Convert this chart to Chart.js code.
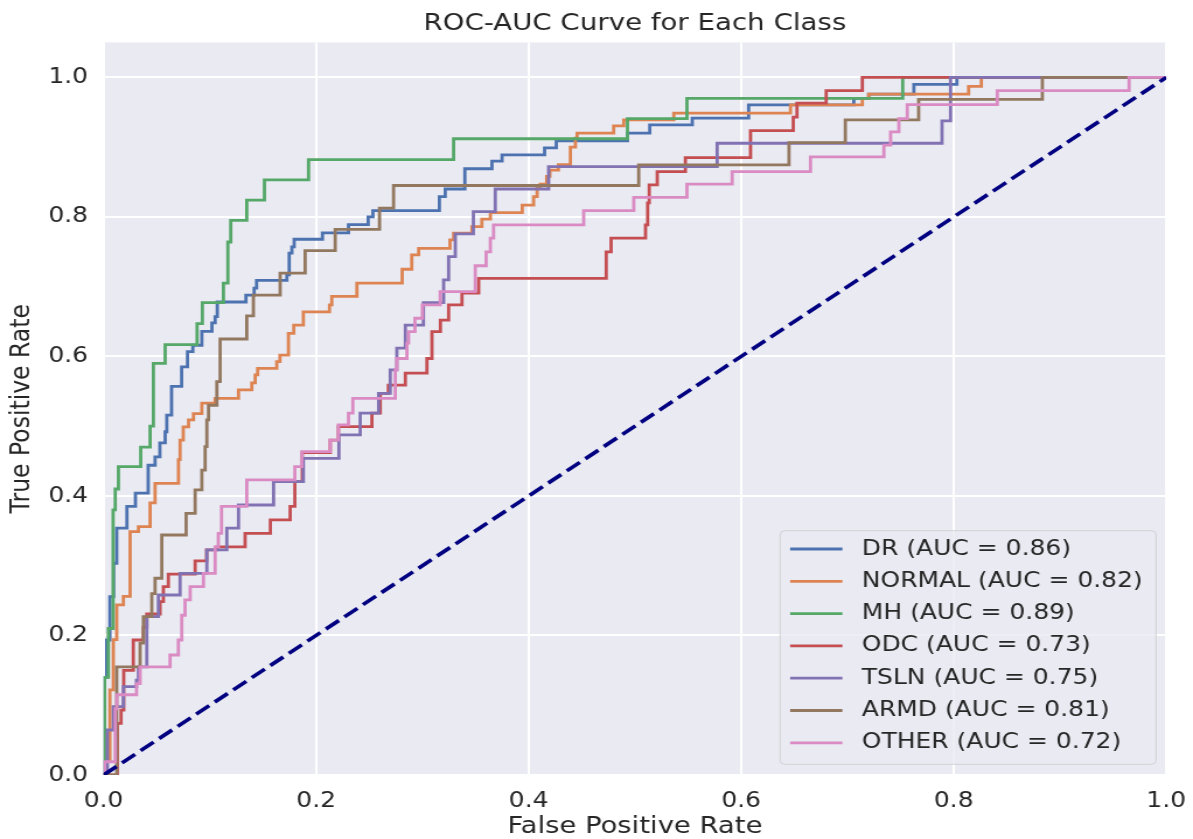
<!DOCTYPE html>
<html>
<head>
<meta charset="utf-8">
<title>ROC-AUC Curve for Each Class</title>
<script src="https://cdn.jsdelivr.net/npm/chart.js@4.4.1/dist/chart.umd.min.js"></script>
<style>
  html, body { margin: 0; padding: 0; background: #fff; overflow: hidden; }
  /* the source figure is a little wider than it is tall in its text, so stretch it */
  #wrap { width: 1022px; height: 839px; transform: scaleX(1.1673); transform-origin: 0 0; }
</style>
</head>
<body>
<div id="wrap"><canvas id="rocChart" width="1022" height="839"></canvas></div>
<script>
// ROC corner points per class, [fpr, tpr]
const rocDR = [[0,0],[0.001,0.14],[0.003,0.1935],[0.006,0.2556],[0.0095,0.3035],[0.0124,0.354],[0.022,0.385],[0.030,0.404],[0.042,0.444],[0.0485,0.456],[0.053,0.476],[0.058,0.492],[0.0595,0.516],[0.064,0.557],[0.0735,0.585],[0.079,0.607],[0.084,0.616],[0.0925,0.636],[0.102,0.648],[0.105,0.657],[0.107,0.678],[0.134,0.688],[0.1417,0.698],[0.144,0.709],[0.1725,0.717],[0.1747,0.748],[0.1772,0.757],[0.1794,0.768],[0.206,0.777],[0.2305,0.789],[0.249,0.800],[0.2535,0.809],[0.316,0.829],[0.3215,0.840],[0.340,0.869],[0.3655,0.880],[0.375,0.889],[0.415,0.899],[0.426,0.909],[0.493,0.920],[0.514,0.932],[0.554,0.9415],[0.607,0.9606],[0.706,0.970],[0.72,0.976],[0.7625,0.990],[0.803,1.0],[1,1]];
const rocNORMAL = [[0,0],[0.003,0.02],[0.006,0.122],[0.0092,0.194],[0.0124,0.244],[0.0187,0.256],[0.025,0.349],[0.0328,0.356],[0.0438,0.39],[0.0485,0.418],[0.0705,0.452],[0.072,0.48],[0.075,0.499],[0.080,0.509],[0.0846,0.518],[0.0925,0.533],[0.105,0.540],[0.127,0.552],[0.1395,0.562],[0.1427,0.5735],[0.145,0.583],[0.163,0.5925],[0.166,0.602],[0.174,0.633],[0.179,0.645],[0.188,0.664],[0.2126,0.674],[0.2148,0.686],[0.2384,0.705],[0.281,0.725],[0.290,0.7455],[0.2965,0.755],[0.326,0.767],[0.3294,0.7766],[0.3467,0.786],[0.356,0.7967],[0.364,0.806],[0.394,0.817],[0.4047,0.829],[0.408,0.841],[0.411,0.847],[0.417,0.858],[0.420,0.867],[0.428,0.875],[0.4393,0.90],[0.444,0.913],[0.4456,0.92],[0.48,0.9305],[0.4895,0.939],[0.5366,0.9487],[0.6464,0.9606],[0.714,0.97],[0.72,0.976],[0.814,0.987],[0.826,1.0],[1,1]];
const rocMH = [[0,0],[0.001,0.14],[0.0045,0.21],[0.009,0.38],[0.011,0.41],[0.014,0.442],[0.035,0.47],[0.0438,0.50],[0.0469,0.59],[0.058,0.617],[0.088,0.647],[0.093,0.677],[0.1128,0.705],[0.117,0.764],[0.1197,0.795],[0.1348,0.824],[0.1514,0.853],[0.1929,0.882],[0.3294,0.912],[0.493,0.941],[0.549,0.97],[0.752,1.0],[1,1]];
const rocODC = [[0,0],[0.013,0.074],[0.0165,0.093],[0.019,0.15],[0.028,0.1935],[0.0375,0.2115],[0.0407,0.2308],[0.0532,0.2485],[0.0563,0.27],[0.061,0.288],[0.0862,0.307],[0.097,0.3226],[0.1066,0.327],[0.1332,0.3465],[0.157,0.3656],[0.1756,0.385],[0.180,0.4205],[0.187,0.462],[0.2133,0.48],[0.221,0.4993],[0.2525,0.5186],[0.2604,0.547],[0.268,0.559],[0.284,0.576],[0.3043,0.597],[0.309,0.6355],[0.317,0.652],[0.3247,0.674],[0.3373,0.6906],[0.353,0.712],[0.473,0.750],[0.4776,0.7695],[0.51,0.7885],[0.512,0.82],[0.5135,0.846],[0.521,0.865],[0.5475,0.885],[0.6088,0.9237],[0.649,0.943],[0.6525,0.963],[0.680,0.981],[0.714,1.0],[1,1]];
const rocTSLN = [[0,0],[0.0036,0.0645],[0.0092,0.098],[0.0187,0.1266],[0.031,0.136],[0.0328,0.155],[0.0407,0.227],[0.0516,0.258],[0.072,0.289],[0.0972,0.3226],[0.116,0.354],[0.127,0.387],[0.16,0.4205],[0.188,0.454],[0.2215,0.4875],[0.2415,0.5186],[0.2588,0.547],[0.2698,0.5806],[0.276,0.612],[0.284,0.645],[0.301,0.677],[0.32,0.7097],[0.3247,0.743],[0.331,0.7756],[0.348,0.8076],[0.3686,0.840],[0.4188,0.872],[0.5774,0.9056],[0.789,0.9376],[0.797,1.0],[1,1]];
const rocARMD = [[0,0],[0.0124,0.155],[0.0344,0.189],[0.0375,0.227],[0.0454,0.26],[0.0485,0.282],[0.0548,0.344],[0.0777,0.375],[0.0862,0.4086],[0.0925,0.437],[0.0956,0.4707],[0.0972,0.509],[0.0988,0.53],[0.1066,0.564],[0.1097,0.625],[0.1348,0.658],[0.141,0.688],[0.1662,0.7193],[0.1897,0.7517],[0.218,0.782],[0.2597,0.8125],[0.2729,0.845],[0.5036,0.8746],[0.645,0.9065],[0.698,0.939],[0.767,0.9686],[0.8834,1.0],[1,1]];
const rocOTHER = [[0,0],[0.001,0.019],[0.011,0.095],[0.0125,0.115],[0.031,0.131],[0.0344,0.155],[0.0626,0.172],[0.0704,0.1935],[0.0736,0.229],[0.0767,0.251],[0.0815,0.27],[0.094,0.289],[0.105,0.327],[0.108,0.3465],[0.111,0.385],[0.1348,0.423],[0.180,0.442],[0.1866,0.4635],[0.2133,0.48],[0.221,0.5018],[0.2305,0.5186],[0.2346,0.54],[0.2745,0.5806],[0.276,0.597],[0.2855,0.619],[0.287,0.6355],[0.293,0.6547],[0.3,0.674],[0.3168,0.693],[0.3498,0.73],[0.36,0.75],[0.364,0.7695],[0.367,0.7885],[0.4518,0.809],[0.4989,0.828],[0.549,0.847],[0.5915,0.865],[0.6652,0.886],[0.7343,0.903],[0.7406,0.922],[0.7484,0.941],[0.7563,0.961],[0.841,0.981],[0.965,1.0],[1,1]];
const chanceLine = [[0,0],[1,1]];

const classNames = ['DR', 'NORMAL', 'MH', 'ODC', 'TSLN', 'ARMD', 'OTHER'];
const aucValues = [0.86, 0.82, 0.89, 0.73, 0.75, 0.81, 0.72];
const rocCurves = [rocDR, rocNORMAL, rocMH, rocODC, rocTSLN, rocARMD, rocOTHER];
const xTicks = [0, 0.2, 0.4, 0.6, 0.8, 1.0];
const yTicks = [0, 0.2, 0.4, 0.6, 0.8, 1.0];

// seaborn "deep" palette
const lineColors = ['#4c72b0', '#dd8452', '#55a868', '#c44e52', '#8172b3', '#937860', '#da8bc3'];
const textColor = '#262626';

Chart.defaults.font.family = '"DejaVu Sans", sans-serif';
Chart.defaults.color = textColor;

const toXY = pts => pts.map(p => ({ x: p[0], y: p[1] }));

const datasets = rocCurves.map((pts, i) => ({
  label: classNames[i] + ' (AUC = ' + aucValues[i].toFixed(2) + ')',
  data: toXY(pts),
  borderColor: lineColors[i],
  borderWidth: 2.8,
  stepped: 'before',   // chart.js 'before' = go up first, then across
  pointRadius: 0,
  fill: false,
  inLegend: true,
  order: rocCurves.length - i   // later classes drawn on top, like matplotlib
}));
datasets.push({
  label: 'chance',
  data: toXY(chanceLine),
  borderColor: '#000080',
  borderWidth: 3.6,
  borderDash: [14, 6],
  pointRadius: 0,
  fill: false,
  inLegend: false,
  order: 0
});

// grey-blue plot face
const plotFace = {
  id: 'plotFace',
  beforeDraw(chart) {
    const { ctx, chartArea: a } = chart;
    ctx.save();
    ctx.fillStyle = '#eaeaf2';
    ctx.fillRect(a.left, a.top, a.right - a.left, a.bottom - a.top);
    ctx.restore();
  }
};

// matplotlib style legend in the lower right corner
const insideLegend = {
  id: 'insideLegend',
  afterDatasetsDraw(chart) {
    const { ctx, chartArea: a } = chart;
    const items = chart.data.datasets.filter(d => d.inLegend);
    const w = 322, h = 233.6;
    const left = a.right - 8.8 - w, top = a.bottom - 10.7 - h;
    ctx.save();
    ctx.beginPath();
    ctx.roundRect(left, top, w, h, 4);
    ctx.fillStyle = 'rgba(234,234,242,0.8)';
    ctx.fill();
    ctx.strokeStyle = 'rgba(204,204,204,0.8)';
    ctx.lineWidth = 1;
    ctx.stroke();
    ctx.font = '21.4px "DejaVu Sans"';
    ctx.textBaseline = 'middle';
    ctx.textAlign = 'left';
    items.forEach((d, i) => {
      const y = top + 18.3 + i * 32.3;
      ctx.beginPath();
      ctx.moveTo(left + 8.6, y);
      ctx.lineTo(left + 53.4, y);
      ctx.strokeStyle = d.borderColor;
      ctx.lineWidth = 2.8;
      ctx.stroke();
      ctx.fillStyle = textColor;
      ctx.fillText(d.label, left + 70, y);
    });
    ctx.restore();
  }
};

const config = {
  type: 'line',
  data: { datasets },
  options: {
    responsive: false,
    animation: false,
    layout: { padding: { left: 0, right: 22.9, top: 0, bottom: 0 } },
    plugins: {
      legend: { display: false },
      tooltip: { enabled: false },
      title: {
        display: true,
        fullSize: false,   // centre over the plot, not the canvas
        text: 'ROC-AUC Curve for Each Class',
        color: textColor,
        font: { size: 23.7, weight: 'normal', lineHeight: 1 },
        padding: { top: 11.8, bottom: 7.0 }
      }
    },
    scales: {
      x: {
        type: 'linear',
        min: 0,
        max: 1,
        afterBuildTicks: s => { s.ticks = xTicks.map(v => ({ value: v })); },
        afterFit: s => { s.height = 64; s.paddingLeft = 0; s.paddingRight = 0; },
        ticks: {
          callback: v => v.toFixed(1),
          font: { size: 21.4 },
          padding: 13.7,
          maxRotation: 0,
          autoSkip: false
        },
        grid: { color: '#ffffff', lineWidth: 2, drawTicks: false },
        border: { display: false },
        title: {
          display: true,
          text: 'False Positive Rate',
          font: { size: 23.5, lineHeight: 1 },
          padding: { top: 0, bottom: 0 }
        }
      },
      y: {
        type: 'linear',
        min: 0,
        max: 1.05,
        afterBuildTicks: s => { s.ticks = yTicks.map(v => ({ value: v })); },
        afterFit: s => { s.width = 88.7; s.paddingTop = 0; s.paddingBottom = 0; },
        ticks: {
          callback: v => v.toFixed(1),
          font: { size: 21.4 },
          padding: 13.3,
          autoSkip: false
        },
        grid: { color: '#ffffff', lineWidth: 2, drawTicks: false },
        border: { display: false },
        title: {
          display: true,
          text: 'True Positive Rate',
          font: { size: 23.5, lineHeight: 1 },
          padding: { top: 7.1, bottom: 0 }
        }
      }
    }
  },
  plugins: [plotFace, insideLegend]
};

const rocChart = new Chart(document.getElementById('rocChart'), config);
</script>
</body>
</html>
